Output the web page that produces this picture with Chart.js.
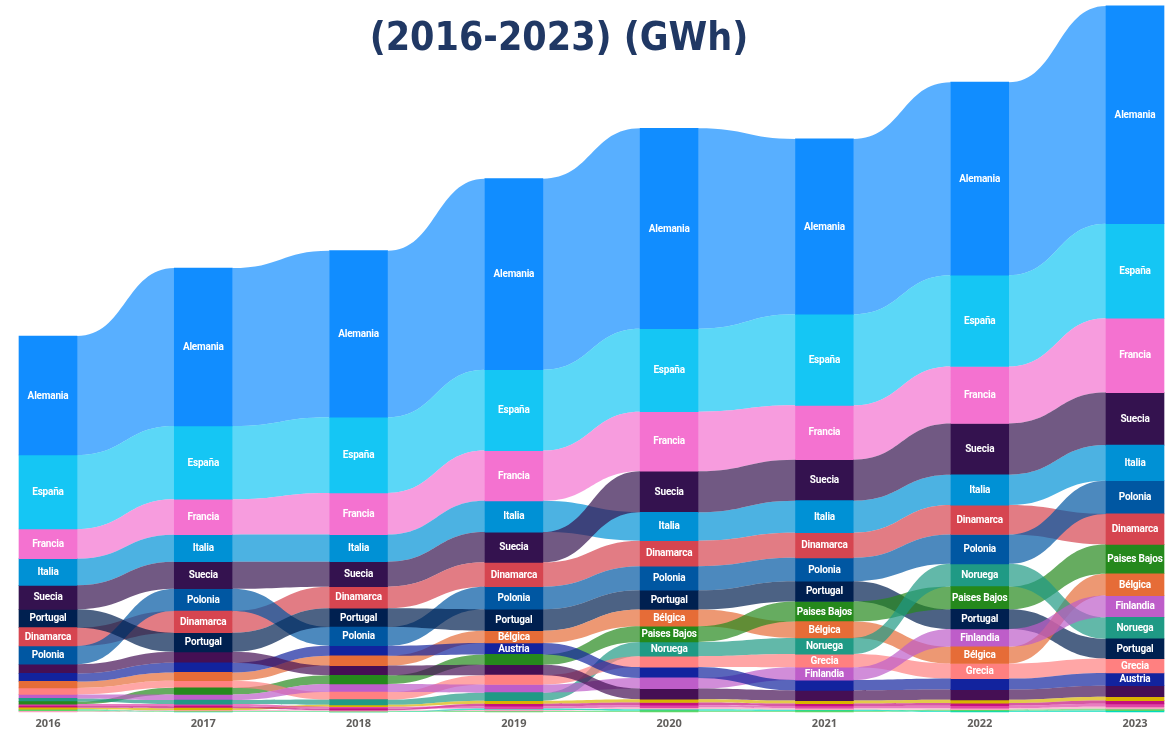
<!DOCTYPE html>
<html>
<head>
<meta charset="utf-8">
<title>Generación eólica (2016-2023) (GWh)</title>
<script src="https://cdn.jsdelivr.net/npm/chart.js@4.4.1/dist/chart.umd.min.js"></script>
<style>
  html, body { margin: 0; padding: 0; background: #fff; }
  #wrap { position: relative; width: 1173px; height: 730px; overflow: hidden; }
  #title {
    position: absolute; left: 0; top: 14px; width: 1118px;
    text-align: center; pointer-events: none;
    font-family: "DejaVu Sans Condensed", "DejaVu Sans", sans-serif;
    font-stretch: condensed; font-weight: bold; font-size: 39px; line-height: 46px;
    color: #203864;
  }
</style>
</head>
<body>
<div id="wrap">
  <canvas id="ribbonChart"></canvas>
  <div id="title">(2016-2023) (GWh)</div>
</div>
<script>
const years = ['2016', '2017', '2018', '2019', '2020', '2021', '2022', '2023'];

// GWh per year, 2016 -> 2023
const alemania     = [77950, 103490, 109120, 125110, 131260, 114820, 126420, 142660];
const espana       = [48470, 48010, 49580, 52990, 54370, 59670, 59800, 61900];
const francia      = [19450, 23190, 27310, 32950, 38970, 35570, 37340, 48730];
const italia       = [17420, 17750, 17750, 20440, 18670, 21030, 19910, 23320];
const suecia       = [15720, 17690, 16380, 19850, 26860, 26860, 33540, 34390];
const dinamarca    = [11990, 14210, 14080, 15920, 16700, 16440, 19260, 19980];
const polonia      = [11950, 14610, 12250, 14740, 15720, 15260, 19190, 21750];
const portugal     = [12050, 12450, 12310, 14150, 12640, 13300, 12900, 12900];
const belgica      = [4260, 5500, 6480, 7930, 10940, 10680, 10940, 14310];
const paisesBajos  = [1640, 4320, 5700, 6810, 10280, 13170, 14870, 19190];
const noruega      = [2100, 2620, 3410, 5240, 9370, 10610, 14930, 14080];
const grecia       = [4220, 4590, 4980, 6160, 7140, 8650, 9890, 9430];
const finlandia    = [2620, 3730, 5240, 5310, 7010, 8380, 11660, 14280];
const austria      = [5240, 6290, 6550, 7530, 7070, 6750, 7200, 8380];
const rumania      = [6030, 7200, 6350, 6780, 6940, 6680, 6680, 7200];
const croacia      = [1050, 1180, 1240, 1970, 2160, 1970, 2160, 2490];
const lituania     = [1110, 1310, 1110, 1700, 1770, 1570, 1700, 2160];
const bulgaria     = [1310, 1380, 1180, 1510, 1570, 1510, 1640, 1970];
const chequia      = [520, 590, 590, 720, 1050, 920, 980, 1310];
const estonia      = [590, 520, 460, 660, 850, 720, 790, 1110];
const letonia      = [590, 200, 130, 880, 980, 790, 720, 950];

const seriesNames = ['Alemania', 'España', 'Francia', 'Italia', 'Suecia', 'Dinamarca', 'Polonia',
  'Portugal', 'Bélgica', 'Paises Bajos', 'Noruega', 'Grecia', 'Finlandia', 'Austria', 'Rumanía',
  'Croacia', 'Lituania', 'Bulgaria', 'Chequia', 'Estonia', 'Letonia'];
const seriesValues = [alemania, espana, francia, italia, suecia, dinamarca, polonia,
  portugal, belgica, paisesBajos, noruega, grecia, finlandia, austria, rumania,
  croacia, lituania, bulgaria, chequia, estonia, letonia];

const seriesColors = ['#118DFF', '#15C6F4', '#F472D0', '#0091D5', '#34124F', '#D64550', '#0057A2',
  '#002050', '#E66C37', '#25891C', '#1F9A85', '#FF8080', '#BE5DC9', '#12239E', '#450F54',
  '#D9B300', '#C4127E', '#E044A7', '#F5A6C0', '#5BD667', '#00DBBC'];

const Y_MAX = 466360;
const RIBBON_ALPHA = 0.7;
const LABEL_MIN_PX = 11.2;

// each year is its own stack: biggest country on top
function buildRanges() {
  const ranges = seriesValues.map(() => []);
  years.forEach((yr, i) => {
    const order = seriesValues.map((v, s) => s).sort((a, b) => seriesValues[a][i] - seriesValues[b][i]);
    let base = 0;
    order.forEach(s => {
      ranges[s][i] = [base, base + seriesValues[s][i]];
      base += seriesValues[s][i];
    });
  });
  return ranges;
}

function fade(hex, a) {
  const n = parseInt(hex.slice(1), 16);
  return `rgba(${(n >> 16) & 255},${(n >> 8) & 255},${n & 255},${a})`;
}

function barBox(el) {
  const p = el.getProps(['x', 'y', 'base', 'width'], true);
  return { left: p.x - p.width / 2, right: p.x + p.width / 2, x: p.x,
    top: Math.min(p.y, p.base), bottom: Math.max(p.y, p.base) };
}

// ribbons between consecutive bars of the same country
const ribbonPlugin = {
  id: 'ribbons',
  beforeDatasetsDraw(chart) {
    const ctx = chart.ctx;
    ctx.save();
    chart.data.datasets.forEach((ds, d) => {
      const bars = chart.getDatasetMeta(d).data;
      ctx.fillStyle = fade(seriesColors[d], RIBBON_ALPHA);
      for (let i = 0; i < bars.length - 1; i++) {
        const a = barBox(bars[i]);
        const b = barBox(bars[i + 1]);
        const mx = (a.right + b.left) / 2;
        ctx.beginPath();
        ctx.moveTo(a.right, a.top);
        ctx.bezierCurveTo(mx, a.top, mx, b.top, b.left, b.top);
        ctx.lineTo(b.left, b.bottom);
        ctx.bezierCurveTo(mx, b.bottom, mx, a.bottom, a.right, a.bottom);
        ctx.closePath();
        ctx.fill();
      }
    });
    ctx.restore();
  }
};

// country names inside segments that are tall enough
const labelPlugin = {
  id: 'segLabels',
  afterDatasetsDraw(chart) {
    const ctx = chart.ctx;
    ctx.save();
    ctx.fillStyle = '#ffffff';
    ctx.font = 'bold 10px Roboto, "DejaVu Sans Condensed", sans-serif';
    if ('letterSpacing' in ctx) ctx.letterSpacing = '-0.2px';
    ctx.textAlign = 'center';
    ctx.textBaseline = 'middle';
    chart.data.datasets.forEach((ds, d) => {
      chart.getDatasetMeta(d).data.forEach(el => {
        const b = barBox(el);
        if (b.bottom - b.top >= LABEL_MIN_PX) {
          ctx.fillText(ds.label, b.x, (b.top + b.bottom) / 2 + 0.5);
        }
      });
    });
    ctx.restore();
  }
};

const ranges = buildRanges();

new Chart(document.getElementById('ribbonChart'), {
  type: 'bar',
  data: {
    labels: years,
    datasets: seriesNames.map((name, s) => ({
      label: name,
      data: ranges[s],
      backgroundColor: seriesColors[s],
      borderWidth: 0,
      barThickness: 58,
      grouped: false,
      clip: false
    }))
  },
  options: {
    responsive: true,
    maintainAspectRatio: false,
    animation: false,
    layout: { padding: { left: 48, right: 38, top: 0, bottom: 0 } },
    plugins: { legend: { display: false }, tooltip: { enabled: false } },
    scales: {
      x: {
        offset: false,
        grid: { display: false, drawTicks: false },
        border: { display: false },
        ticks: { color: '#605E5C', padding: 5, font: { family: '"Open Sans", sans-serif', size: 11, weight: 'bold' } },
        afterFit: scale => { scale.height = 18; }
      },
      y: { display: false, min: 0, max: Y_MAX }
    }
  },
  plugins: [ribbonPlugin, labelPlugin]
});
</script>
</body>
</html>
